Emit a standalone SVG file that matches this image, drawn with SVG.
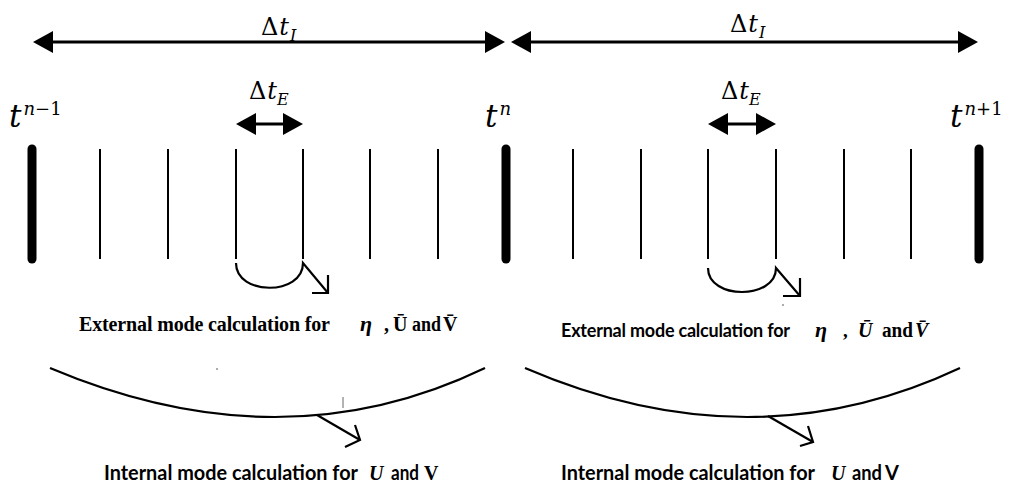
<svg xmlns="http://www.w3.org/2000/svg" width="1010" height="486" viewBox="0 0 1010 486">
  <style>
    .math { font-family: "DejaVu Serif", "Liberation Serif", serif; fill: #000; }
    .it { font-style: italic; }
    .serifb { font-family: "Liberation Serif", "DejaVu Serif", serif; font-weight: bold; fill: #000; }
    .sansb { font-family: Lato, "Liberation Sans", sans-serif; font-weight: bold; fill: #000; }
    .thick { stroke: #000; stroke-width: 9; stroke-linecap: round; fill: none; }
    .thin { stroke: #000; stroke-width: 2; fill: none; }
    .dim { stroke: #000; stroke-width: 3; fill: none; }
    .curve { stroke: #000; stroke-width: 2.2; fill: none; }
  </style>
  <defs>
    <marker id="head" markerUnits="userSpaceOnUse" markerWidth="21" markerHeight="23" refX="0" refY="11" orient="auto-start-reverse" viewBox="0 0 21 23">
      <path d="M0,0 L20,11 L0,22 Z" fill="#000"/>
    </marker>
  </defs>
  <rect width="1010" height="486" fill="#fff"/>

  <g id="connectors">
    <line class="dim" x1="53" y1="42" x2="485" y2="42" marker-start="url(#head)" marker-end="url(#head)"/>
    <line class="dim" x1="531" y1="42" x2="958" y2="42" marker-start="url(#head)" marker-end="url(#head)"/>
    <line class="dim" x1="256" y1="124" x2="283" y2="124" marker-start="url(#head)" marker-end="url(#head)"/>
    <line class="dim" x1="728" y1="124" x2="756" y2="124" marker-start="url(#head)" marker-end="url(#head)"/>
    <path class="curve" d="M236,263 C236,296 303,296 303,263 L328,293"/>
    <path class="curve" d="M312,293 L328,293 L328,275"/>
    <path class="curve" d="M708,268 C708,300 776,300 776,268 L800,296"/>
    <path class="curve" d="M783,296 L800,296 L800,278"/>
    <path class="curve" d="M50,368 Q282,466 485,368"/>
    <path class="curve" d="M317,415 L360,440"/>
    <path class="curve" d="M355,425 L360,440 L345,447"/>
    <path class="curve" d="M525,368 Q752,466 960,368"/>
    <path class="curve" d="M768,416 L813,442"/>
    <path class="curve" d="M808,426 L813,442 L800,446"/>
  </g>

  <g id="ticks">
    <line class="thick" x1="32" y1="149" x2="32" y2="259"/>
    <line class="thin" x1="100" y1="149" x2="100" y2="259"/>
    <line class="thin" x1="168" y1="149" x2="168" y2="259"/>
    <line class="thin" x1="236" y1="149" x2="236" y2="259"/>
    <line class="thin" x1="303" y1="149" x2="303" y2="259"/>
    <line class="thin" x1="370" y1="149" x2="370" y2="259"/>
    <line class="thin" x1="438" y1="149" x2="438" y2="259"/>
    <line class="thick" x1="506" y1="149" x2="506" y2="259"/>
    <line class="thin" x1="573" y1="149" x2="573" y2="259"/>
    <line class="thin" x1="641" y1="149" x2="641" y2="259"/>
    <line class="thin" x1="708" y1="149" x2="708" y2="259"/>
    <line class="thin" x1="776" y1="149" x2="776" y2="259"/>
    <line class="thin" x1="844" y1="149" x2="844" y2="259"/>
    <line class="thin" x1="911" y1="149" x2="911" y2="259"/>
    <line class="thick" x1="979" y1="149" x2="979" y2="259"/>
  </g>

  <g id="stray-marks">
    <line x1="343" y1="397" x2="343" y2="408" stroke="#666" stroke-width="1"/>
    <circle cx="217" cy="369" r="0.8" fill="#444"/>
    <circle cx="783" cy="305" r="0.8" fill="#444"/>
  </g>

  <g id="label-dtI-1">
    <text class="math" x="261" y="35" font-size="24">Δ<tspan class="it" dx="1">t</tspan><tspan class="it" font-size="16" dx="1" dy="6">I</tspan></text>
  </g>
  <g id="label-dtI-2">
    <text class="math" x="730" y="32" font-size="24">Δ<tspan class="it" dx="1">t</tspan><tspan class="it" font-size="16" dx="1" dy="6">I</tspan></text>
  </g>
  <g id="label-dtE-1">
    <text class="math" x="249" y="99" font-size="24">Δ<tspan class="it" dx="1">t</tspan><tspan class="it" font-size="16" dx="0" dy="6">E</tspan></text>
  </g>
  <g id="label-dtE-2">
    <text class="math" x="721" y="99" font-size="24">Δ<tspan class="it" dx="1">t</tspan><tspan class="it" font-size="16" dx="0" dy="6">E</tspan></text>
  </g>

  <g id="label-tn-1">
    <text class="math" x="9" y="127" font-size="31"><tspan class="it">t</tspan><tspan font-size="18" dx="2" dy="-12"><tspan class="it">n</tspan>−1</tspan></text>
  </g>
  <g id="label-tn">
    <text class="math" x="485" y="127" font-size="31"><tspan class="it">t</tspan><tspan class="it" font-size="18" dx="2" dy="-12">n</tspan></text>
  </g>
  <g id="label-tn+1">
    <text class="math" x="950" y="127" font-size="31"><tspan class="it">t</tspan><tspan font-size="18" dx="2" dy="-12"><tspan class="it">n</tspan>+1</tspan></text>
  </g>

  <g id="external-1">
    <text class="serifb" x="79" y="331" font-size="20" textLength="251" lengthAdjust="spacing">External mode calculation for</text>
    <text class="serifb it" x="360" y="331" font-size="22">η</text>
    <text class="serifb" x="384" y="331" font-size="20">,</text>
    <text class="serifb" x="393" y="331" font-size="20">Ū</text>
    <text class="serifb" x="412" y="331" font-size="20" textLength="29" lengthAdjust="spacingAndGlyphs">and</text>
    <text class="serifb" x="443" y="331" font-size="20">V̄</text>
  </g>
  <g id="external-2">
    <text class="sansb" x="561" y="337" font-size="18" textLength="229" lengthAdjust="spacing">External mode calculation for</text>
    <text class="serifb it" x="815" y="337" font-size="22">η</text>
    <text class="serifb" x="843" y="337" font-size="19">,</text>
    <text class="serifb it" x="858" y="337" font-size="20">Ū</text>
    <text class="serifb" x="882" y="337" font-size="20" textLength="31" lengthAdjust="spacingAndGlyphs">and</text>
    <text class="serifb it" x="915" y="337" font-size="20">V̄</text>
  </g>
  <g id="internal-1">
    <text class="sansb" x="104" y="480" font-size="20" textLength="254" lengthAdjust="spacingAndGlyphs">Internal mode calculation for</text>
    <text class="serifb it" x="369" y="480" font-size="20">U</text>
    <text class="sansb" x="391" y="480" font-size="20" textLength="28" lengthAdjust="spacingAndGlyphs">and</text>
    <text class="serifb" x="424" y="480" font-size="20">V</text>
  </g>
  <g id="internal-2">
    <text class="sansb" x="561" y="480" font-size="20" textLength="254" lengthAdjust="spacingAndGlyphs">Internal mode calculation for</text>
    <text class="serifb it" x="831" y="480" font-size="20">U</text>
    <text class="sansb" x="852" y="480" font-size="20" textLength="30" lengthAdjust="spacingAndGlyphs">and</text>
    <text class="sansb" x="885" y="480" font-size="20">V</text>
  </g>
</svg>
